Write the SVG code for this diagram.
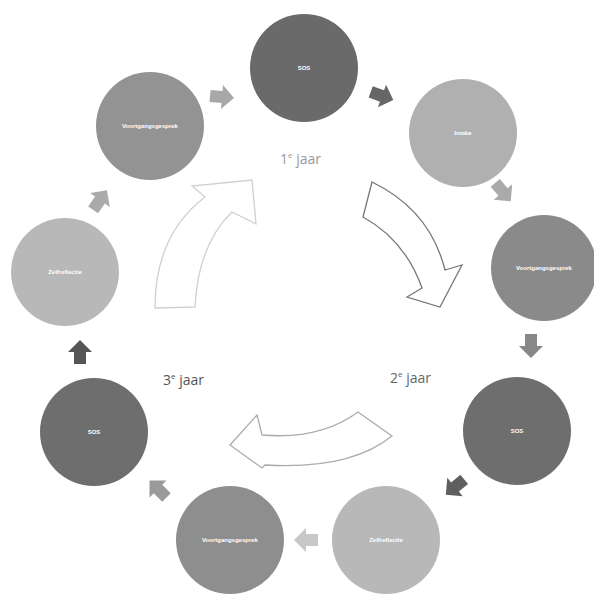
<svg xmlns="http://www.w3.org/2000/svg" width="594" height="596" viewBox="0 0 594 596">
<style>
.lbl{font-family:"Liberation Sans",Arial,sans-serif;font-size:6px;fill:#fff;text-anchor:middle;font-weight:bold}
.yr{font-family:"Open Sans","Liberation Sans",sans-serif;font-size:14px}
.big{fill:#fff;stroke-width:1.3;stroke-linejoin:miter}
</style>
<defs>
<path id="sa" d="M-12,-6 L0,-6 L0,-12 L12,0 L0,12 L0,6 L-12,6 Z"/>
</defs>
<rect width="594" height="596" fill="#fff"/>
<g id="n1"><circle cx="304" cy="68" r="54" fill="#6a6a6a"/><text class="lbl" x="304" y="70">SOS</text></g>
<g id="n2"><circle cx="463" cy="133" r="54" fill="#b0b0b0"/><text class="lbl" x="463" y="135">Intake</text></g>
<g id="n3"><circle cx="544" cy="268" r="53" fill="#8a8a8a"/><text class="lbl" x="544" y="270">Voortgangsgesprek</text></g>
<g id="n4"><circle cx="517" cy="431" r="54" fill="#6e6e6e"/><text class="lbl" x="517" y="433">SOS</text></g>
<g id="n5"><circle cx="386" cy="540" r="54" fill="#b8b8b8"/><text class="lbl" x="386" y="542">Zelfreflectie</text></g>
<g id="n6"><circle cx="230" cy="540" r="54" fill="#8e8e8e"/><text class="lbl" x="230" y="542">Voortgangsgesprek</text></g>
<g id="n7"><circle cx="94" cy="432" r="54" fill="#6e6e6e"/><text class="lbl" x="94" y="434">SOS</text></g>
<g id="n8"><circle cx="65" cy="272" r="54" fill="#b8b8b8"/><text class="lbl" x="65" y="274">Zelfreflectie</text></g>
<g id="n9"><circle cx="150" cy="126" r="54" fill="#939393"/><text class="lbl" x="150" y="128">Voortgangsgesprek</text></g>
<g id="connectors">
<use href="#sa" transform="translate(222,97) rotate(5)" fill="#a8a8a8"/>
<use href="#sa" transform="translate(382,96) rotate(20)" fill="#666"/>
<use href="#sa" transform="translate(503,192) rotate(50)" fill="#aaa"/>
<use href="#sa" transform="translate(531,346) rotate(90)" fill="#888"/>
<use href="#sa" transform="translate(455,487) rotate(140)" fill="#5f5f5f"/>
<use href="#sa" transform="translate(306,540) rotate(180)" fill="#c8c8c8"/>
<use href="#sa" transform="translate(158,489) rotate(225)" fill="#9a9a9a"/>
<use href="#sa" transform="translate(80,352) rotate(270)" fill="#555"/>
<use href="#sa" transform="translate(100,200) rotate(-55)" fill="#aaa"/>
<path class="big" stroke="#d0d0d0" d="M155,308 Q155,235 205,197 L192,186 L252,180 L256,224 L232,212 Q198,245 195,307 Z"/>
<path class="big" stroke="#777" d="M372,182 Q430,210 445,270 L462,265 L440,307 L407,297 L422,288 Q405,240 363,217 Z"/>
<path class="big" stroke="#aaa" d="M358,412 Q320,440 262,435 L257,415 L230,445 L262,468 L265,465 Q350,470 392,436 Z"/>
</g>
<text class="yr" x="280" y="164" fill="#999">1<tspan font-size="8" dy="-6">e</tspan><tspan dy="6"> jaar</tspan></text>
<text class="yr" x="390" y="383" fill="#666">2<tspan font-size="8" dy="-6">e</tspan><tspan dy="6"> jaar</tspan></text>
<text class="yr" x="163" y="385" fill="#555">3<tspan font-size="8" dy="-6">e</tspan><tspan dy="6"> jaar</tspan></text>
</svg>
